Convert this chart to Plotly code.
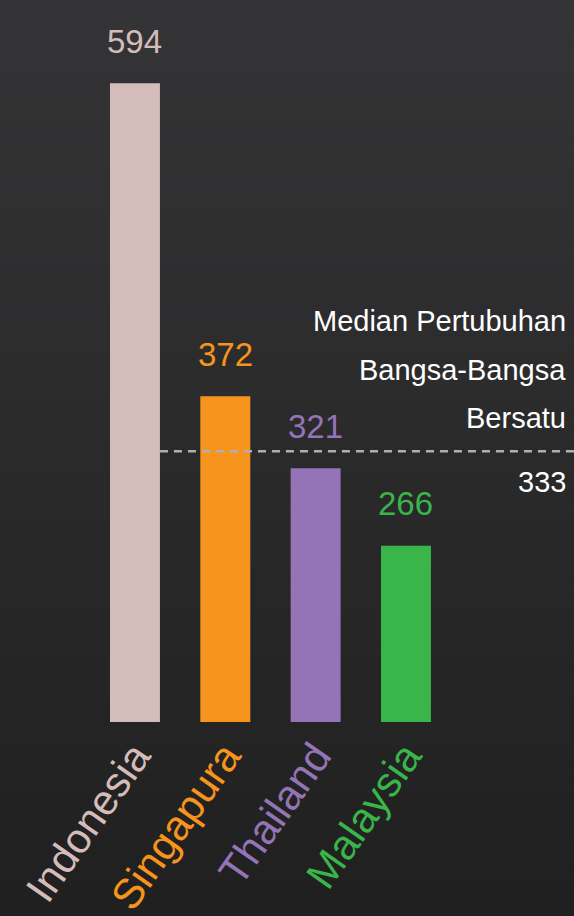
import plotly.graph_objects as go

countries = ["Indonesia", "Singapura", "Thailand", "Malaysia"]
values = [594, 372, 321, 266]
colors = ["#d3bcb9", "#f7941d", "#9474b6", "#39b54a"]
median_value = 333
median_lines = ["Median Pertubuhan", "Bangsa-Bangsa", "Bersatu"]

FONT = "Liberation Sans, Arial, sans-serif"
W, H = 574, 916
B = 194

x = list(range(len(countries)))
fig = go.Figure()
fig.add_trace(go.Bar(x=x, y=values, marker=dict(color=colors, line=dict(width=0)),
                     width=0.553, hoverinfo="skip"))

# value labels
for i, (v, c) in enumerate(zip(values, colors)):
    fig.add_annotation(x=i, y=v, text=str(v), showarrow=False, yanchor="middle",
                       yshift=42, font=dict(family=FONT, size=33, color=c))

# median line
fig.add_shape(type="line", xref="x", yref="y", x0=0.2765, x1=4.86, y0=median_value, y1=median_value,
              line=dict(color="#b0b0b0", width=2.5, dash="8px,6px"))
for line_text, shift in zip(median_lines, [130, 81, 33]):
    fig.add_annotation(x=1, xref="paper", xshift=-6, y=median_value, text=line_text, showarrow=False,
                       xanchor="right", yanchor="middle", yshift=shift,
                       font=dict(family=FONT, size=29, color="#ffffff"))
fig.add_annotation(x=1, xref="paper", xshift=-6, y=median_value, text=str(median_value), showarrow=False,
                   xanchor="right", yanchor="middle", yshift=-31,
                   font=dict(family=FONT, size=29, color="#ffffff"))

# background gradient
n = 60
top = (52, 52, 54)
bot = (32, 32, 32)
y_lo = -B / (H - B)
for k in range(n):
    t = k / (n - 1)
    col = tuple(round(top[j] + (bot[j] - top[j]) * t) for j in range(3))
    y1 = 1 - (1 - y_lo) * k / n
    y0 = 1 - (1 - y_lo) * (k + 1) / n
    fig.add_shape(type="rect", xref="paper", yref="paper", x0=0, x1=1, y0=y0 - 0.002, y1=y1,
                  fillcolor="rgb(%d,%d,%d)" % col, line=dict(width=0), layer="below")

ticktext = ["<span style='color:%s'>%s</span>" % (c, n_) for n_, c in zip(countries, colors)]
fig.update_layout(
    width=W, height=H, margin=dict(l=0, r=0, t=0, b=B, autoexpand=False),
    paper_bgcolor="#202020", plot_bgcolor="rgba(0,0,0,0)",
    showlegend=False,
    xaxis=dict(range=[-1.494, 4.86], tickvals=x, ticktext=ticktext, tickangle=-55,
               showgrid=False, zeroline=False, showline=False, ticks="", automargin=False,
               tickfont=dict(family=FONT, size=42), fixedrange=True),
    yaxis=dict(range=[141, 653], visible=False, fixedrange=True, automargin=False),
)
fig.write_html("out.html")
